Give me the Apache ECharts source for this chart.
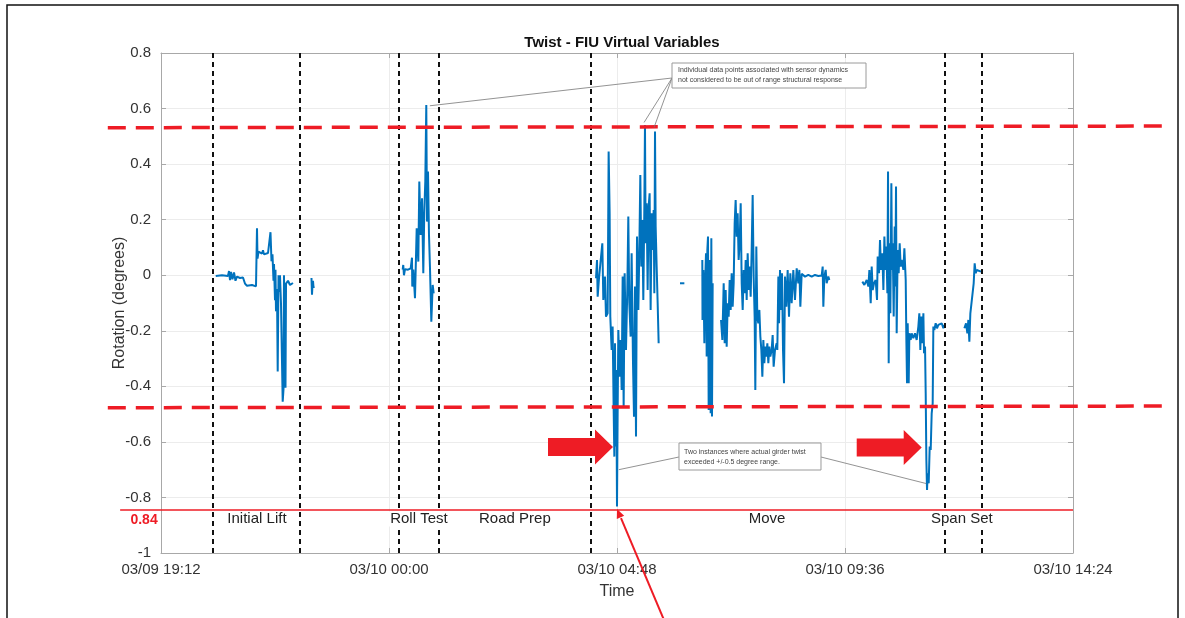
<!DOCTYPE html>
<html>
<head>
<meta charset="utf-8">
<title>Twist - FIU Virtual Variables</title>
<script src="https://cdn.jsdelivr.net/npm/echarts@6/dist/echarts.min.js"></script>
<style>
  html, body { margin: 0; padding: 0; background: #fff; }
  #main { width: 1185px; height: 618px; }
</style>
</head>
<body>
<div id="main"></div>
<script>
// time is in hours after 03/09 19:12, twist in degrees
const xTickLabels = ['03/09 19:12', '03/10 00:00', '03/10 04:48', '03/10 09:36', '03/10 14:24']
const phaseBounds = [1.09, 2.926, 5.0, 5.85, 9.036, 16.49, 17.284]
const phaseNames = ['Initial Lift', 'Roll Test', 'Road Prep', 'Move', 'Span Set']
const phaseLabelAt = [2.02, 5.43, 7.45, 12.76, 16.86]
const limitUpper = 0.534
const limitLower = -0.474
const maxTwist = -0.845

const liftMain = [
  [1.152, -0.003], [1.284, 0.0], [1.41, -0.003], [1.432, 0.015], [1.453, -0.018], [1.474, 0.012],
  [1.505, -0.015], [1.537, 0.01], [1.568, -0.02], [1.6, -0.005], [1.663, -0.01], [1.726, -0.008],
  [1.768, -0.03], [1.81, -0.038], [1.916, -0.035], [2.0, -0.04], [2.021, 0.169], [2.032, 0.06],
  [2.053, 0.085], [2.126, 0.078], [2.147, 0.09], [2.168, 0.075], [2.253, 0.08], [2.305, 0.155],
  [2.326, 0.05], [2.347, 0.075], [2.368, -0.02], [2.379, 0.04], [2.4, -0.09], [2.41, 0.02],
  [2.421, -0.13], [2.442, -0.05], [2.457, -0.347], [2.474, 0.0], [2.495, -0.06], [2.505, 0.0],
  [2.526, -0.1], [2.562, -0.455], [2.579, -0.41], [2.589, 0.0], [2.621, -0.405], [2.632, -0.03],
  [2.674, -0.02], [2.716, -0.035], [2.779, -0.028]
]
const liftTail = [[3.168, -0.01], [3.179, -0.07], [3.189, -0.035], [3.2, -0.02], [3.211, -0.045], [3.221, -0.04]]

const rollTest = [
  [5.088, 0.02], [5.1, 0.037], [5.115, 0.0], [5.137, 0.022], [5.2, 0.02], [5.257, 0.025],
  [5.284, 0.063], [5.29, -0.041], [5.312, 0.02], [5.347, -0.083], [5.383, 0.169], [5.417, 0.049],
  [5.438, 0.337], [5.467, 0.145], [5.495, 0.277], [5.522, 0.007], [5.543, 0.229], [5.564, 0.337],
  [5.585, 0.613], [5.6, 0.193], [5.621, 0.373], [5.642, 0.145], [5.663, 0.025], [5.691, -0.167],
  [5.72, -0.035], [5.741, -0.065]
]

const moveStart = [
  [9.158, -0.011], [9.179, 0.055], [9.193, -0.077], [9.221, -0.011], [9.263, -0.005], [9.291, 0.115],
  [9.312, -0.089], [9.347, -0.005], [9.368, -0.149], [9.403, -0.137], [9.424, 0.445], [9.445, 0.223],
  [9.459, -0.149], [9.487, -0.269], [9.508, -0.185], [9.53, -0.485], [9.544, -0.653], [9.558, -0.245],
  [9.572, -0.617], [9.586, -0.341], [9.6, -0.833], [9.614, -0.485], [9.628, -0.197], [9.656, -0.365],
  [9.677, -0.233], [9.698, -0.413], [9.719, -0.005], [9.74, -0.473], [9.761, 0.007], [9.789, -0.269],
  [9.817, -0.053], [9.838, 0.211], [9.859, -0.101], [9.887, -0.221], [9.908, 0.079], [9.937, -0.317],
  [9.958, -0.509], [9.979, -0.041], [10.0, -0.581], [10.021, 0.139], [10.049, -0.125], [10.07, 0.091],
  [10.091, 0.361], [10.112, 0.031], [10.133, 0.199], [10.154, -0.089], [10.175, 0.235], [10.189, 0.541],
  [10.203, 0.115], [10.224, 0.259], [10.245, -0.053], [10.266, 0.247], [10.287, 0.295], [10.308, -0.125],
  [10.329, 0.223], [10.35, 0.091], [10.372, 0.235], [10.386, -0.065], [10.4, 0.517], [10.414, 0.175],
  [10.435, 0.031], [10.456, -0.101], [10.477, -0.245]
]
const moveDash = [[10.926, -0.029], [11.018, -0.029]]
const moveMidA = [
  [11.396, 0.055], [11.4, -0.161], [11.418, 0.019], [11.439, -0.245], [11.453, -0.041], [11.474, 0.079],
  [11.488, -0.293], [11.502, 0.091], [11.516, 0.139], [11.53, -0.485], [11.544, 0.055], [11.558, -0.269],
  [11.572, -0.497], [11.586, 0.133], [11.6, -0.509], [11.614, -0.029]
]
const moveMidB = [
  [11.79, -0.161], [11.818, -0.233], [11.846, -0.029], [11.867, -0.245], [11.888, -0.053], [11.909, -0.257],
  [11.93, -0.101], [11.951, -0.149], [11.972, -0.017], [11.993, -0.125], [12.014, 0.007], [12.035, -0.113],
  [12.056, -0.029], [12.077, 0.187], [12.098, 0.271], [12.119, 0.139], [12.14, 0.223], [12.161, 0.055],
  [12.182, 0.115], [12.204, 0.259], [12.225, -0.029], [12.246, -0.125], [12.267, 0.019], [12.288, -0.065],
  [12.309, 0.055], [12.33, -0.089], [12.351, 0.079], [12.372, -0.053], [12.393, 0.031], [12.414, -0.077],
  [12.435, 0.091], [12.456, 0.289], [12.477, -0.005], [12.498, -0.149], [12.512, -0.413], [12.533, 0.103],
  [12.554, -0.149], [12.575, -0.173], [12.597, -0.125], [12.618, -0.221], [12.639, -0.269], [12.66, -0.365],
  [12.681, -0.233], [12.702, -0.317], [12.723, -0.257], [12.744, -0.293], [12.765, -0.245], [12.786, -0.317],
  [12.807, -0.257], [12.828, -0.293], [12.856, -0.269], [12.877, -0.215], [12.898, -0.329], [12.926, -0.269],
  [12.961, -0.245], [12.975, -0.269], [12.997, -0.005], [13.011, -0.173], [13.032, 0.019], [13.053, -0.125],
  [13.074, 0.007], [13.095, -0.269], [13.116, -0.389], [13.137, -0.005], [13.165, -0.113], [13.193, 0.019],
  [13.221, -0.149], [13.249, 0.007], [13.277, -0.101], [13.312, 0.019], [13.347, -0.089], [13.383, 0.025],
  [13.418, -0.029], [13.439, 0.019], [13.46, -0.113], [13.488, 0.005], [13.558, -0.005], [13.628, 0.001],
  [13.698, -0.005], [13.768, 0.001], [13.839, -0.003], [13.909, -0.001], [13.93, 0.031], [13.944, -0.113],
  [13.965, -0.005], [13.993, 0.019], [14.014, -0.029], [14.049, -0.005], [14.07, -0.017]
]

const spanA = [
  [14.765, -0.023], [14.808, -0.035], [14.857, -0.017], [14.892, -0.041], [14.913, 0.019], [14.941, -0.101],
  [14.962, 0.031], [14.983, -0.053], [15.011, -0.029], [15.046, -0.017], [15.074, -0.089], [15.088, 0.067],
  [15.116, 0.007], [15.137, 0.127], [15.158, 0.019], [15.186, 0.079], [15.208, -0.053], [15.229, 0.139],
  [15.25, 0.019], [15.271, 0.103], [15.292, -0.065], [15.306, 0.373], [15.32, -0.317], [15.334, 0.115],
  [15.355, -0.137], [15.376, 0.331], [15.39, 0.019], [15.404, 0.115], [15.425, -0.149], [15.446, 0.175],
  [15.46, -0.041], [15.474, 0.319], [15.488, -0.209], [15.509, 0.091], [15.53, 0.007], [15.551, 0.115],
  [15.572, 0.031], [15.593, 0.055], [15.629, 0.019], [15.65, 0.097], [15.678, -0.017], [15.692, -0.233],
  [15.706, -0.389], [15.72, -0.173], [15.741, -0.389], [15.755, -0.209], [15.783, -0.233], [15.804, -0.209],
  [15.839, -0.227], [15.874, -0.209], [15.909, -0.233], [15.944, -0.185], [15.965, -0.137], [15.986, -0.269],
  [16.007, -0.149], [16.029, -0.245], [16.05, -0.137], [16.064, -0.281], [16.085, -0.257], [16.099, -0.425],
  [16.113, -0.665], [16.127, -0.773], [16.141, -0.713], [16.162, -0.749], [16.183, -0.617], [16.204, -0.629],
  [16.225, -0.497], [16.246, -0.461], [16.26, -0.185], [16.281, -0.197], [16.309, -0.173], [16.337, -0.191],
  [16.365, -0.179], [16.4, -0.185], [16.436, -0.173], [16.471, -0.191], [16.492, -0.179]
]
const spanB = [
  [16.913, -0.191], [16.948, -0.173], [16.976, -0.209], [16.997, -0.161], [17.018, -0.239], [17.039, -0.137],
  [17.067, -0.14], [17.109, -0.029], [17.13, 0.043], [17.152, 0.007], [17.173, 0.019], [17.208, 0.013],
  [17.264, 0.013]
]

const segments = [liftMain, liftTail, rollTest, moveStart, moveDash, moveMidA, moveMidB, spanA, spanB]

const blue = '#0072bd'
const red = '#ee1c25'
const axisGrey = '#a8a8a8'
const font = 'Liberation Sans, Arial, sans-serif'

var myChart = echarts.init(document.getElementById('main'))

// frame axes (MATLAB "box on"): lines + inward ticks, no labels
const boxAxisX = {
  type: 'value', min: 0, max: 19.2, interval: 4.8,
  axisLine: { show: true, onZero: false, lineStyle: { color: axisGrey, width: 1 } },
  axisTick: { show: true, inside: true, length: 5, lineStyle: { color: axisGrey } },
  splitLine: { show: false },
  axisLabel: { show: false }
}
const boxAxisY = {
  type: 'value', min: -1, max: 0.8, interval: 0.2,
  axisLine: { show: true, onZero: false, lineStyle: { color: axisGrey, width: 1 } },
  axisTick: { show: true, inside: true, length: 5, lineStyle: { color: axisGrey } },
  splitLine: { show: false },
  axisLabel: { show: false }
}

const option = {
  animation: false,
  title: {
    text: 'Twist - FIU Virtual Variables',
    left: 617, top: 30, textAlign: 'center',
    textStyle: { fontFamily: font, fontSize: 15, fontWeight: 'bold', color: '#111' }
  },
  grid: { left: 161, right: 112, top: 53, bottom: 65 },
  xAxis: [
    Object.assign({}, boxAxisX, {
      position: 'bottom',
      name: 'Time', nameLocation: 'middle', nameGap: 31,
      nameTextStyle: { fontFamily: font, fontSize: 16, color: '#333' },
      splitLine: { show: true, lineStyle: { color: '#ececec' } },
      axisLabel: {
        show: true, margin: 9, fontFamily: font, fontSize: 15, color: '#333',
        formatter: (v) => xTickLabels[Math.round(v / 4.8)]
      }
    }),
    Object.assign({}, boxAxisX, { position: 'top' })
  ],
  yAxis: [
    Object.assign({}, boxAxisY, {
      position: 'left',
      name: 'Rotation (degrees)', nameLocation: 'middle', nameGap: 33, nameMoveOverlap: false,
      nameTextStyle: { fontFamily: font, fontSize: 16, color: '#333' },
      splitLine: { show: true, lineStyle: { color: '#ececec' } },
      axisLabel: {
        show: true, margin: 10, fontFamily: font, fontSize: 15, color: '#333',
        formatter: (v) => String(+v.toFixed(1))
      }
    }),
    Object.assign({}, boxAxisY, { position: 'right' })
  ],
  series: segments.map((seg, i) => ({
    type: 'line',
    data: seg,
    showSymbol: false,
    symbol: 'none',
    silent: true,
    lineStyle: { color: blue, width: 2 },
    markLine: i === 0 ? {
      silent: true, symbol: 'none', animation: false,
      label: { show: false },
      lineStyle: { color: '#111', type: [5, 4], width: 2 },
      data: phaseBounds.map((h) => ({ xAxis: h }))
    } : undefined
  }))
}
myChart.setOption(option)

// annotations drawn on top, anchored to data coordinates
const px = (h, v) => myChart.convertToPixel({ gridIndex: 0 }, [h, v])

function blockArrow(tip) {
  const [tx, ty] = px(tip[0], tip[1])
  return {
    type: 'polygon', silent: true, z: 100,
    shape: { points: [[tx - 65, ty - 9], [tx - 18, ty - 9], [tx - 18, ty - 17.5], [tx, ty], [tx - 18, ty + 17.5], [tx - 18, ty + 9], [tx - 65, ty + 9]] },
    style: { fill: red }
  }
}
function seg(a, b, color, width, dash) {
  return {
    type: 'line', silent: true, z: 100,
    shape: { x1: a[0], y1: a[1], x2: b[0], y2: b[1] },
    style: { stroke: color, lineWidth: width, lineDash: dash || null }
  }
}
function txt(x, y, text, size, color, align, weight, bg) {
  return {
    type: 'text', silent: true, z: 101, x: x, y: y,
    style: {
      text: text, fontFamily: font, fontSize: size, fill: color, align: align || 'left',
      verticalAlign: 'middle', fontWeight: weight || 'normal',
      backgroundColor: bg || 'transparent', padding: bg ? [0, 2] : 0
    }
  }
}

const g = []
// outer frame
g.push({ type: 'rect', silent: true, shape: { x: 7, y: 5, width: 1171, height: 640 }, style: { fill: 'none', stroke: '#111', lineWidth: 1.5 } })
// limits
g.push(seg(px(-1.12, limitUpper - 0.003), px(21.24, limitUpper + 0.003), red, 3.5, [18, 10]))
g.push(seg(px(-1.12, limitLower - 0.003), px(21.24, limitLower + 0.003), red, 3.5, [18, 10]))
g.push(seg(px(-0.86, maxTwist), px(19.2, maxTwist), red, 1.5))
const lbl = px(-0.07, -0.881)
g.push(txt(lbl[0], lbl[1], '0.84', 14, red, 'right', 'bold'))
// phase names
phaseNames.forEach((name, i) => {
  const p = px(phaseLabelAt[i], -0.878)
  g.push(txt(p[0], p[1], name, 15, '#222', 'center', 'normal', '#fff'))
})
// block arrows
g.push(blockArrow([9.516, -0.618]))
g.push(blockArrow([16.015, -0.62]))
// thin arrow to the minimum
const tip = px(9.6, -0.842)
g.push(seg([tip[0] + 4, tip[1] + 9], [tip[0] + 50, tip[1] + 118], red, 2))
g.push({ type: 'polygon', silent: true, z: 100, shape: { points: [tip, [tip[0] + 7.2, tip[1] + 6.6], [tip[0] - 0.2, tip[1] + 9.8]] }, style: { fill: red } })
// note 1
const b1 = px(10.758, 0.764)
const b1w = 194, b1h = 25
g.push(seg([b1[0], b1[1] + 15], px(5.66, 0.61), '#777', 0.8))
g.push(seg([b1[0], b1[1] + 15], px(10.17, 0.55), '#777', 0.8))
g.push(seg([b1[0], b1[1] + 15], px(10.38, 0.532), '#777', 0.8))
g.push({ type: 'rect', silent: true, z: 100, shape: { x: b1[0], y: b1[1], width: b1w, height: b1h }, style: { fill: '#fff', stroke: '#9a9a9a', lineWidth: 1 } })
g.push(txt(b1[0] + 6, b1[1] + 7.5, 'Individual data points associated with sensor dynamics', 7, '#444'))
g.push(txt(b1[0] + 6, b1[1] + 17.5, 'not considered to be out of range structural response', 7, '#444'))
// note 2
const b2 = px(10.905, -0.604)
const b2w = 142, b2h = 27
g.push(seg([b2[0], b2[1] + 14], px(9.64, -0.7), '#777', 0.8))
g.push(seg([b2[0] + b2w, b2[1] + 14], px(16.11, -0.75), '#777', 0.8))
g.push({ type: 'rect', silent: true, z: 100, shape: { x: b2[0], y: b2[1], width: b2w, height: b2h }, style: { fill: '#fff', stroke: '#9a9a9a', lineWidth: 1 } })
g.push(txt(b2[0] + 5, b2[1] + 9, 'Two instances where actual girder twist', 7, '#444'))
g.push(txt(b2[0] + 5, b2[1] + 19, 'exceeded +/-0.5 degree range.', 7, '#444'))

myChart.setOption({ graphic: g })
</script>
</body>
</html>
